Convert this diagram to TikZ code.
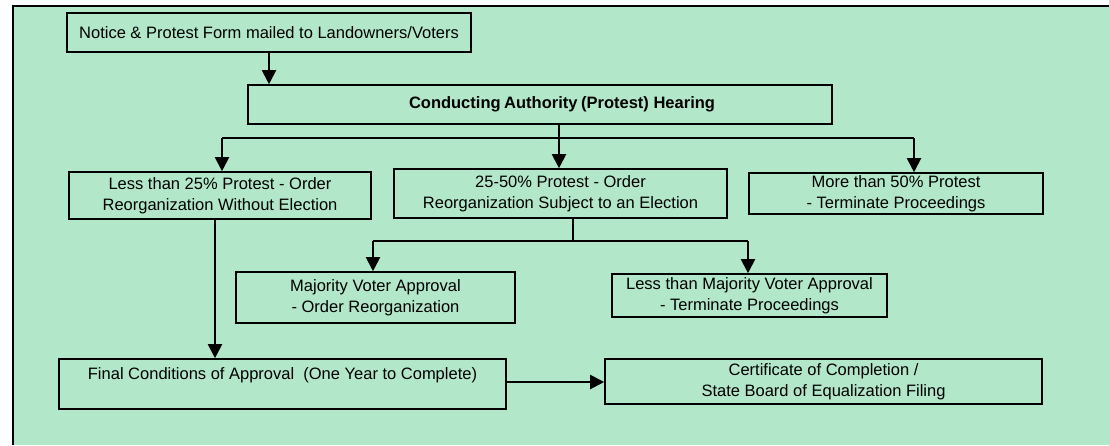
\documentclass[tikz,border=0pt]{standalone}
\usepackage{fontspec}
\setmainfont{Liberation Sans}
\usetikzlibrary{arrows.meta}
\definecolor{bg}{RGB}{178,231,201}
\begin{document}
\begin{tikzpicture}[x=1pt,y=-1pt,
  box/.style={draw=black,line width=1.6pt,inner sep=0pt,align=center,
    font=\fontsize{16.5}{21}\selectfont},
  lbl/.style={inner sep=0pt,align=center,font=\fontsize{16.5}{21}\selectfont},
  arr/.style={line width=2pt,-{Triangle[width=14pt,length=14pt]}},
  conn/.style={line width=1.8pt},
  hline/.style={line width=1.4pt},
  frame/.style={line width=2pt}]
\useasboundingbox (0,0) rectangle (1109,445);
\path[fill=bg] (13,5.5) rectangle (1109,445);
\draw[frame] (13,445) -- (13,5.5) -- (1109,5.5);

\node[box,minimum width=404pt,minimum height=39pt] (b1) at (269,32.5)
  {Notice \& Protest Form mailed to Landowners/Voters};
\node[box,minimum width=584pt,minimum height=39pt] (b2) at (540,104.5) {};
\node[lbl,font=\fontsize{16.5}{21}\bfseries] (b2t) at (562,104.5)
  {Conducting\kern-1pt\ Authority\kern-1pt\ (Protest) Hearing};
\node[box,minimum width=302pt,minimum height=47pt] (b3) at (220,195.5)
  {Less than 25\% Protest - Order\\Reorganization Without Election};
\node[box,minimum width=333pt,minimum height=49pt] (b4) at (560.5,193.5)
  {25-50\% Protest - Order\\Reorganization Subject to an Election};
\node[box,minimum width=294pt,minimum height=41pt] (b5) at (896,193.5)
  {More than 50\% Protest\\- Terminate Proceedings};
\node[box,minimum width=279pt,minimum height=51pt] (b6) at (375.5,297.5)
  {Majority Voter Approval\\- Order Reorganization};
\node[box,minimum width=275pt,minimum height=43pt] (b7) at (749.5,295.5)
  {Less than Majority Voter Approval\\- Terminate Proceedings};
\node[box,minimum width=447pt,minimum height=50pt] (b8) at (282.5,384)
  {Final Conditions of Approval\ \ (One Year to Complete)\\\mbox{}};
\node[box,minimum width=437pt,minimum height=45pt] (b9) at (823.5,381.5)
  {Certificate of Completion /\\State Board of Equalization Filing};

\draw[arr] (b1.south) -- (b1.south |- b2.north);

\coordinate (j1) at (559,138);
\coordinate (jL) at (222,138);
\coordinate (jR) at (914,138);
\draw[conn] (b2.south -| j1) -- (j1);
\draw[hline] (jL) -- (jR);
\draw[arr] (jL) -- (jL |- b3.north);
\draw[arr] (j1) -- (j1 |- b4.north);
\draw[arr] (jR) -- (jR |- b5.north);

\coordinate (j2) at (573,241);
\coordinate (kL) at (373,241);
\coordinate (kR) at (748,241);
\draw[conn] (b4.south -| j2) -- (j2);
\draw[hline] (kL) -- (kR);
\draw[arr] (kL) -- (kL |- b6.north);
\draw[arr] (kR) -- (kR |- b7.north);

\coordinate (m) at (215,0);
\draw[arr] (b3.south -| m) -- (b8.north -| m);

\coordinate (n) at (0,382);
\draw[arr] (b8.east |- n) -- (b9.west |- n);
\end{tikzpicture}
\end{document}
